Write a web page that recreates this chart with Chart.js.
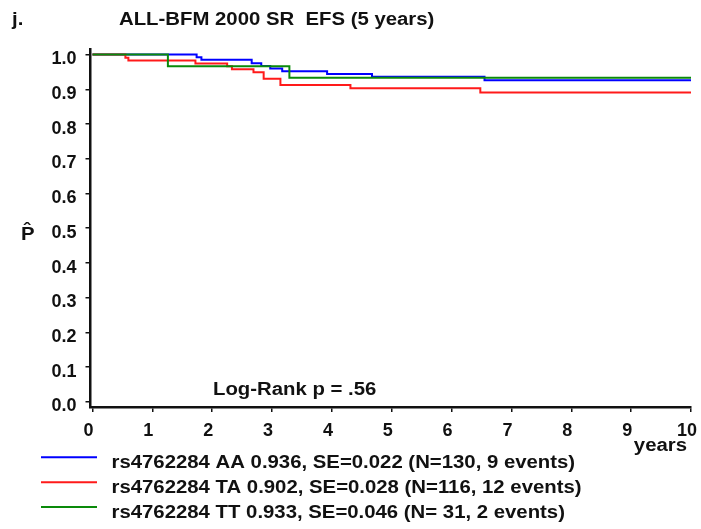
<!DOCTYPE html>
<html>
<head>
<meta charset="utf-8">
<script src="https://cdn.jsdelivr.net/npm/chart.js@4.4.0/dist/chart.umd.min.js"></script>
<style>
  html, body { margin: 0; padding: 0; background: #fff; }
</style>
</head>
<body>
<canvas id="kmChart" width="701" height="529"></canvas>
<script>
// Kaplan-Meier steps: event times (years) and survival after each step
var aaTimes = [0, 1.74, 1.82, 2.66, 2.82, 2.97, 3.17, 3.92, 4.67, 6.55, 10];
var aaSurv  = [1, 0.992, 0.985, 0.975, 0.967, 0.960, 0.952, 0.944, 0.936, 0.926, 0.926];

var taTimes = [0, 0.55, 0.60, 1.72, 2.25, 2.33, 2.69, 2.86, 3.14, 4.31, 6.48, 10];
var taSurv  = [1, 0.991, 0.983, 0.974, 0.966, 0.958, 0.949, 0.930, 0.912, 0.903, 0.891, 0.891];

var ttTimes = [0, 1.26, 3.29, 10];
var ttSurv  = [1, 0.966, 0.933, 0.933];

var seriesLabels = [
  'rs4762284 AA 0.936, SE=0.022 (N=130, 9 events)',
  'rs4762284 TA 0.902, SE=0.028 (N=116, 12 events)',
  'rs4762284 TT 0.933, SE=0.046 (N= 31, 2 events)'
];
var seriesColors = ['#0000ff', '#ff1a1a', '#0a8a0a'];

var xTickValues = [0, 1, 2, 3, 4, 5, 6, 7, 8, 9, 10];
var yTickValues = [0, 0.1, 0.2, 0.3, 0.4, 0.5, 0.6, 0.7, 0.8, 0.9, 1.0];

var panelLetter = 'j.';
var titleText = 'ALL-BFM 2000 SR  EFS (5 years)';
var pValueText = 'Log-Rank p = .56';
var xUnitText = 'years';
var yAxisText = 'P';

var FONT = "'Liberation Sans', Arial, sans-serif";
var STRETCH = 1.13; // the original lettering is a bit wider than Arial

function toPoints(times, surv) {
  return times.map(function (t, i) { return { x: t, y: surv[i] }; });
}

function wideText(ctx, text, x, y, align) {
  ctx.save();
  ctx.translate(x, y);
  ctx.scale(STRETCH, 1);
  ctx.textAlign = align || 'left';
  ctx.fillText(text, 0, 0);
  ctx.restore();
}

// titles, annotation and legend are painted on top of the chart
var annotate = {
  id: 'annotate',
  afterDraw: function (chart) {
    var ctx = chart.ctx;
    ctx.save();
    ctx.fillStyle = '#111';
    ctx.textBaseline = 'alphabetic';
    ctx.font = 'bold 18px ' + FONT;
    wideText(ctx, panelLetter, 12, 24.5);
    wideText(ctx, titleText, 119, 24.5);
    wideText(ctx, pValueText, 213, 394.5);
    wideText(ctx, xUnitText, 687, 450.5, 'right');

    // P with a hat
    wideText(ctx, yAxisText, 21, 239.5);
    wideText(ctx, '\u02C6', 27, 236, 'center');

    // legend
    for (var i = 0; i < seriesLabels.length; i++) {
      var ly = 457.3 + i * 24.9;
      ctx.strokeStyle = seriesColors[i];
      ctx.lineWidth = 2;
      ctx.beginPath();
      ctx.moveTo(41, ly);
      ctx.lineTo(97, ly);
      ctx.stroke();
      wideText(ctx, seriesLabels[i], 111.5, ly + 10.5);
    }
    ctx.restore();
  }
};

function makeSet(i, times, surv, order) {
  return {
    label: seriesLabels[i],
    data: toPoints(times, surv),
    borderColor: seriesColors[i],
    backgroundColor: seriesColors[i],
    borderWidth: 2,
    pointRadius: 0,
    stepped: 'before',
    fill: false,
    order: order
  };
}

var ctx = document.getElementById('kmChart');
var kmChart = new Chart(ctx, {
  type: 'line',
  data: {
    datasets: [
      makeSet(0, aaTimes, aaSurv, 2),
      makeSet(1, taTimes, taSurv, 1),
      makeSet(2, ttTimes, ttSurv, 0)
    ]
  },
  options: {
    responsive: false,
    animation: false,
    layout: { padding: { top: 49, right: 10, bottom: 0, left: 0 } },
    plugins: {
      legend: { display: false },
      tooltip: { enabled: false }
    },
    scales: {
      x: {
        type: 'linear',
        min: -0.033,
        max: 10,
        afterBuildTicks: function (s) { s.ticks = xTickValues.map(function (v) { return { value: v }; }); },
        afterFit: function (s) { s.height = 122; s.paddingLeft = 0; s.paddingRight = 0; },
        grid: { drawOnChartArea: false, drawTicks: true, tickLength: 5, color: '#111', lineWidth: 1.5 },
        border: { display: true, color: '#111', width: 2.5 },
        ticks: {
          color: '#111',
          padding: 8,
          labelOffset: -4,
          maxRotation: 0,
          autoSkip: false,
          font: { family: FONT, size: 18, weight: 'bold' },
          callback: function (v) { return String(v); }
        }
      },
      y: {
        type: 'linear',
        min: -0.015,
        max: 1.016,
        afterBuildTicks: function (s) { s.ticks = yTickValues.map(function (v) { return { value: v }; }); },
        afterFit: function (s) { s.width = 90.5; s.paddingTop = 0; s.paddingBottom = 0; },
        grid: { drawOnChartArea: false, drawTicks: true, tickLength: 5, color: '#111', lineWidth: 1.5 },
        border: { display: true, color: '#111', width: 2.5 },
        ticks: {
          color: '#111',
          padding: 9,
          labelOffset: 4.7,
          autoSkip: false,
          font: { family: FONT, size: 18, weight: 'bold' },
          callback: function (v) { return v.toFixed(1); }
        }
      }
    }
  },
  plugins: [annotate]
});
</script>
</body>
</html>
